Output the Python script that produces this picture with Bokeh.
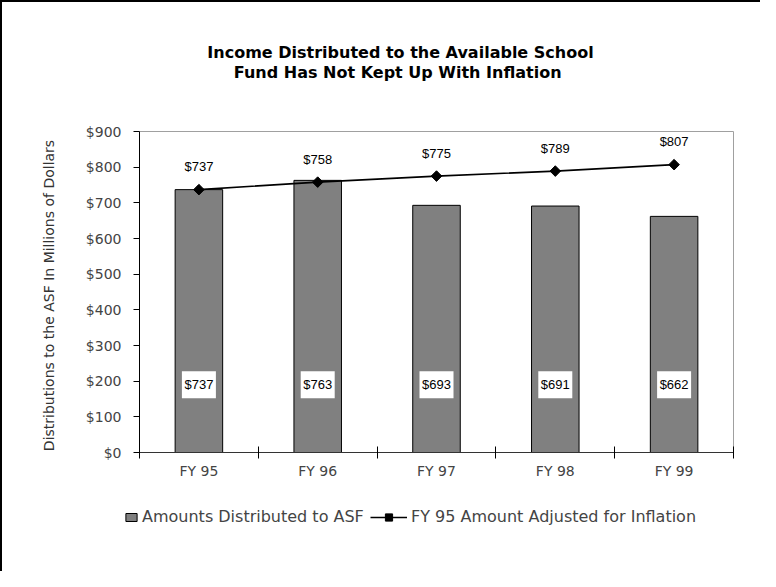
import math
from bokeh.plotting import figure
from bokeh.models import (ColumnDataSource, Label, Legend, LegendItem, FixedTicker,
                          NumeralTickFormatter, Range1d)
from bokeh.core.properties import value
from bokeh.embed import file_html
from bokeh.resources import INLINE

categories = ["FY 95", "FY 96", "FY 97", "FY 98", "FY 99"]
distributed = [737, 763, 693, 691, 662]
adjusted = [737, 758, 775, 789, 807]
y_ticks = [0, 100, 200, 300, 400, 500, 600, 700, 800, 900]
title_lines = ["Income Distributed to the Available School",
               "Fund Has Not Kept Up With  Inflation"]
y_label = "Distributions to the ASF In Millions of Dollars"
bar_name = "Amounts Distributed to ASF"
line_name = "FY 95 Amount Adjusted for Inflation"

GEO = "DejaVu Sans"
ARIAL = "Liberation Sans"

# layout in canvas pixels (the whole canvas is the plotting frame)
W, H = 760, 571
PL, PR, PT, PB = 137, 731, 129, 450          # plot-area edges
n = len(categories)
y_max = y_ticks[-1]
ppx = (PR - PL) / n
ppu = (PB - PT) / y_max
x_start, x_end = -PL / ppx, n + (W - PR) / ppx
y_start, y_end = -(H - PB) / ppu, y_max + PT / ppu

xpos = [i + 0.5 for i in range(n)]
src = ColumnDataSource(dict(
    x=xpos, dist=distributed, adj=adjusted,
    dist_lbl=["$%d" % v for v in distributed],
    adj_lbl=["$%d" % v for v in adjusted],
    lbl_y=[190] * n,
))

p = figure(width=W, height=H, output_backend="svg", toolbar_location=None,
           x_range=Range1d(x_start, x_end), y_range=Range1d(y_start, y_end),
           min_border=0)
p.styles = {"border-top": "2px solid black", "border-left": "2px solid black"}
p.xgrid.visible = False
p.ygrid.visible = False
p.outline_line_color = None
p.background_fill_color = "white"
p.border_fill_color = "white"

# plot-area border (top and right)
p.segment(x0=[0, n], y0=[y_max, 0], x1=[n, n], y1=[y_max, y_max],
          line_color="#a0a0a0", line_width=1)

bars = p.vbar(x="x", top="dist", width=0.4, bottom=0, source=src,
              fill_color="#808080", line_color="black", line_width=1)
ln = p.line(x="x", y="adj", source=src, line_color="black", line_width=1.6)
mk = p.scatter(x="x", y="adj", source=src, marker="square", angle=math.pi / 4,
               size=7.5, fill_color="black", line_color="black")

p.text(x="x", y="adj", text="adj_lbl", source=src, text_align="center",
       text_baseline="middle", y_offset=-23, text_font=value(ARIAL),
       text_font_size="13px", text_color="black")

p.rect(x="x", y="lbl_y", width=34, height=27, width_units="screen",
       height_units="screen", source=src, fill_color="white", line_color=None)
p.text(x="x", y="lbl_y", text="dist_lbl", source=src, text_align="center",
       text_baseline="middle", text_font=value(ARIAL), text_font_size="13px",
       text_color="black")

# axes
xa = p.xaxis[0]
xa.fixed_location = 0
xa.bounds = (0, n)
xa.ticker = FixedTicker(ticks=xpos, minor_ticks=list(range(n + 1)))
xa.major_label_overrides = {x: c for x, c in zip(xpos, categories)}
xa.major_tick_in = 0
xa.major_tick_out = 0
xa.minor_tick_in = 6
xa.minor_tick_out = 6
xa.minor_tick_line_color = "black"
xa.axis_line_color = "#333333"
xa.major_label_text_font = GEO
xa.major_label_text_font_size = "14px"
xa.major_label_standoff = 4

ya = p.yaxis[0]
ya.fixed_location = 0
ya.bounds = (0, y_max)
ya.ticker = FixedTicker(ticks=y_ticks, minor_ticks=[])
ya.formatter = NumeralTickFormatter(format="$0")
ya.major_tick_in = 0
ya.major_tick_out = 6
ya.minor_tick_line_color = None
ya.axis_line_color = "black"
ya.major_tick_line_color = "black"
ya.major_label_text_font = GEO
ya.major_label_text_font_size = "14px"
ya.major_label_standoff = 12

# y-axis title
p.add_layout(Label(x=46, y=H - 293, x_units="screen", y_units="screen",
                   text=y_label, angle=math.pi / 2, text_align="center",
                   text_baseline="middle", text_font=GEO, text_font_size="14px",
                   text_color="#333333"))

# title
for i, t in enumerate(title_lines):
    p.add_layout(Label(x=398, y=H - 50 - 20 * i, x_units="screen", y_units="screen",
                       text=t, text_align="center", text_baseline="middle",
                       text_font=GEO, text_font_style="bold", text_font_size="16px",
                       text_color="black"))

# legends
common = dict(orientation="horizontal", label_height=14, label_standoff=4,
              padding=0, margin=0, border_line_color=None,
              background_fill_alpha=0, label_text_font=GEO,
              label_text_font_size="16px")
leg1 = Legend(items=[LegendItem(label=bar_name, renderers=[bars])],
              location=(122, 47), glyph_width=14, glyph_height=10, **common)
leg2 = Legend(items=[LegendItem(label=line_name, renderers=[ln, mk])],
              location=(368, 47), glyph_width=37, glyph_height=18, **common)
p.add_layout(leg1, "center")
p.add_layout(leg2, "center")

open("out.html", "w").write(file_html(p, INLINE))
